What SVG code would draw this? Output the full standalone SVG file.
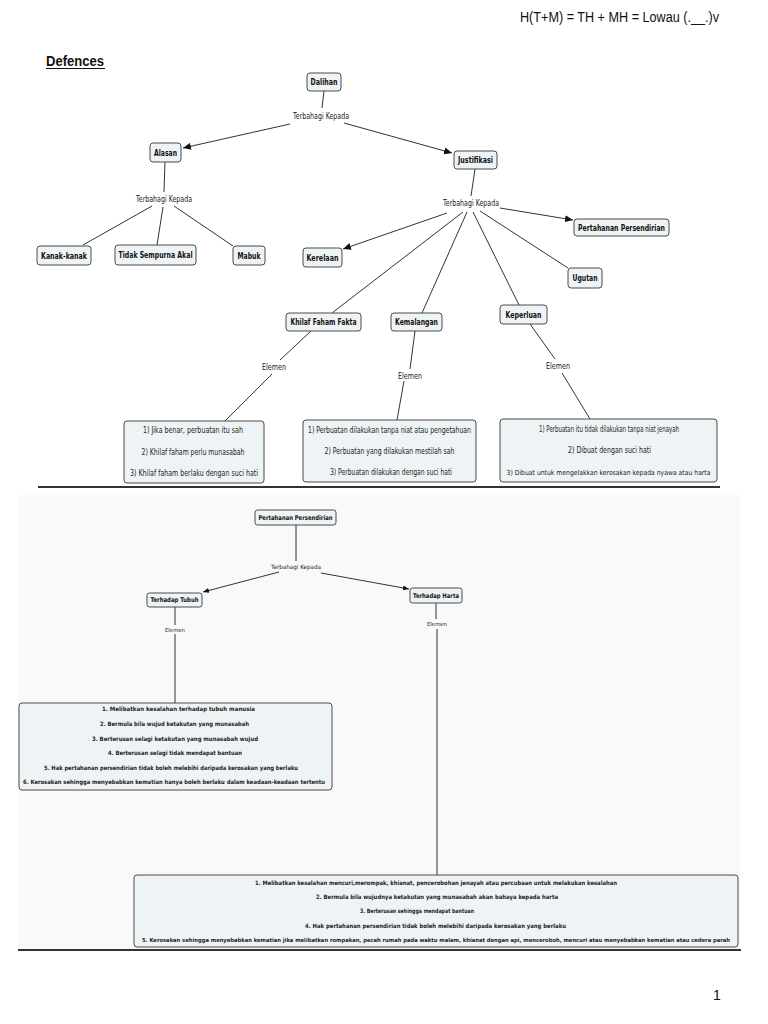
<svg xmlns="http://www.w3.org/2000/svg" width="768" height="1024" viewBox="0 0 768 1024">
<style>
.bg{fill:#ffffff}
.node rect{fill:#eef3f5;stroke:#4a4a4a;stroke-width:1}
.nt{font-family:"DejaVu Sans",Verdana,sans-serif;font-weight:bold;fill:#111;text-anchor:middle}
.lb{font-family:"DejaVu Sans",Verdana,sans-serif;fill:#222;text-anchor:middle}
.bt{font-family:"DejaVu Sans",Verdana,sans-serif;fill:#222;text-anchor:middle}
.conn line{stroke:#333;stroke-width:1;fill:none}
.hdr{font-family:"Liberation Sans",Arial,sans-serif;fill:#111}
</style>
<defs>
<marker id="ah" markerUnits="userSpaceOnUse" markerWidth="8" markerHeight="7" refX="8" refY="3.5" orient="auto">
<path d="M0,0 L8,3.5 L0,7 z" fill="#111"/>
</marker>
<marker id="ahs" markerUnits="userSpaceOnUse" markerWidth="6" markerHeight="5" refX="6" refY="2.5" orient="auto">
<path d="M0,0 L6,2.5 L0,5 z" fill="#111"/>
</marker>
</defs>
<rect class="bg" x="0" y="0" width="768" height="1024"/>
<rect x="18" y="495" width="722" height="455" fill="#f9f9f9"/>

<text class="hdr" x="520" y="22" font-size="14" textLength="199" lengthAdjust="spacingAndGlyphs">H(T+M) = TH + MH =  Lowau (.__.)v</text>
<text class="hdr" x="46" y="66" font-size="14" font-weight="bold" textLength="58" lengthAdjust="spacingAndGlyphs">Defences</text>
<line x1="46" y1="68.5" x2="105" y2="68.5" stroke="#111" stroke-width="1"/>

<g id="connectors" class="conn">
<line x1="324" y1="91" x2="322" y2="108"/>
<line x1="290" y1="124" x2="183" y2="148" marker-end="url(#ah)"/>
<line x1="344" y1="123" x2="452" y2="153" marker-end="url(#ah)"/>
<line x1="165" y1="162" x2="164" y2="192"/>
<line x1="152" y1="206" x2="83" y2="245"/>
<line x1="163" y1="207" x2="157" y2="245"/>
<line x1="174" y1="206" x2="233" y2="246"/>
<line x1="475" y1="169" x2="471" y2="196"/>
<line x1="500" y1="208" x2="573" y2="220" marker-end="url(#ah)"/>
<line x1="447" y1="213" x2="343" y2="249" marker-end="url(#ah)"/>
<line x1="480" y1="211" x2="568" y2="268"/>
<line x1="463" y1="212" x2="332" y2="313"/>
<line x1="467" y1="212" x2="422" y2="313"/>
<line x1="473" y1="212" x2="519" y2="305"/>
<line x1="311" y1="331" x2="280" y2="360"/>
<line x1="272" y1="374" x2="225" y2="421"/>
<line x1="415" y1="331" x2="410" y2="369"/>
<line x1="404" y1="381" x2="397" y2="420"/>
<line x1="530" y1="324" x2="555" y2="359"/>
<line x1="562" y1="373" x2="590" y2="419"/>

<line x1="296" y1="525" x2="296" y2="561"/>
<line x1="279" y1="572" x2="203" y2="592" marker-end="url(#ahs)"/>
<line x1="321" y1="573" x2="409" y2="589" marker-end="url(#ahs)"/>
<line x1="175" y1="607" x2="175" y2="625"/>
<line x1="175" y1="634" x2="175" y2="703"/>
<line x1="436" y1="603" x2="436" y2="619"/>
<line x1="437" y1="629" x2="437" y2="875"/>
</g>

<g id="labels">
<text class="lb" x="321" y="119" font-size="8" textLength="56" lengthAdjust="spacingAndGlyphs">Terbahagi Kepada</text>
<text class="lb" x="164" y="202" font-size="8" textLength="56" lengthAdjust="spacingAndGlyphs">Terbahagi Kepada</text>
<text class="lb" x="471" y="206" font-size="8" textLength="56" lengthAdjust="spacingAndGlyphs">Terbahagi Kepada</text>
<text class="lb" x="274" y="370" font-size="8" textLength="24" lengthAdjust="spacingAndGlyphs">Elemen</text>
<text class="lb" x="410" y="379" font-size="8" textLength="24" lengthAdjust="spacingAndGlyphs">Elemen</text>
<text class="lb" x="558" y="369" font-size="8" textLength="24" lengthAdjust="spacingAndGlyphs">Elemen</text>
<text class="lb" x="296" y="569" font-size="6" textLength="50" lengthAdjust="spacingAndGlyphs">Terbahagi Kepada</text>
<text class="lb" x="175" y="632" font-size="5.5" textLength="20" lengthAdjust="spacingAndGlyphs">Elemen</text>
<text class="lb" x="437" y="626" font-size="5.5" textLength="20" lengthAdjust="spacingAndGlyphs">Elemen</text>
</g>

<g id="n-dalihan" class="node"><rect x="307" y="73" width="34" height="18" rx="3"/><text class="nt" x="324" y="85" font-size="8.5" textLength="27" lengthAdjust="spacingAndGlyphs">Dalihan</text></g>
<g id="n-alasan" class="node"><rect x="150" y="143" width="31" height="19" rx="3"/><text class="nt" x="165.5" y="156" font-size="8.5" textLength="23" lengthAdjust="spacingAndGlyphs">Alasan</text></g>
<g id="n-kanak" class="node"><rect x="37" y="246" width="54" height="19" rx="3"/><text class="nt" x="64" y="258.5" font-size="8.5" textLength="46" lengthAdjust="spacingAndGlyphs">Kanak-kanak</text></g>
<g id="n-tidak" class="node"><rect x="115" y="245" width="81" height="20" rx="3"/><text class="nt" x="155.5" y="258" font-size="8.5" textLength="74" lengthAdjust="spacingAndGlyphs">Tidak Sempurna Akal</text></g>
<g id="n-mabuk" class="node"><rect x="233" y="246" width="32" height="19" rx="3"/><text class="nt" x="249" y="258.5" font-size="8.5" textLength="23" lengthAdjust="spacingAndGlyphs">Mabuk</text></g>
<g id="n-kerelaan" class="node"><rect x="303" y="248" width="39" height="19" rx="3"/><text class="nt" x="322.5" y="260.5" font-size="8.5" textLength="32" lengthAdjust="spacingAndGlyphs">Kerelaan</text></g>
<g id="n-justifikasi" class="node"><rect x="454" y="151" width="43" height="18" rx="3"/><text class="nt" x="475.5" y="163" font-size="8.5" textLength="35" lengthAdjust="spacingAndGlyphs">Justifikasi</text></g>
<g id="n-pertahanan" class="node"><rect x="574" y="219" width="95" height="17" rx="3"/><text class="nt" x="621.5" y="230.5" font-size="8.5" textLength="87" lengthAdjust="spacingAndGlyphs">Pertahanan Persendirian</text></g>
<g id="n-ugutan" class="node"><rect x="568" y="268" width="34" height="20" rx="3"/><text class="nt" x="585" y="281" font-size="8.5" textLength="25" lengthAdjust="spacingAndGlyphs">Ugutan</text></g>
<g id="n-khilaf" class="node"><rect x="286" y="313" width="75" height="18" rx="3"/><text class="nt" x="323.5" y="325" font-size="8.5" textLength="66" lengthAdjust="spacingAndGlyphs">Khilaf Faham Fakta</text></g>
<g id="n-kemalangan" class="node"><rect x="391" y="313" width="51" height="18" rx="3"/><text class="nt" x="416.5" y="325" font-size="8.5" textLength="43" lengthAdjust="spacingAndGlyphs">Kemalangan</text></g>
<g id="n-keperluan" class="node"><rect x="500" y="305" width="47" height="19" rx="3"/><text class="nt" x="523.5" y="317.5" font-size="8.5" textLength="36" lengthAdjust="spacingAndGlyphs">Keperluan</text></g>

<g id="n-khilaf-el" class="node"><rect x="124" y="421" width="140" height="62" rx="3"/>
<text class="bt" x="193" y="433" font-size="8" textLength="100" lengthAdjust="spacingAndGlyphs">1) Jika benar, perbuatan itu sah</text>
<text class="bt" x="193" y="455" font-size="8" textLength="103" lengthAdjust="spacingAndGlyphs">2) Khilaf faham perlu munasabah</text>
<text class="bt" x="194" y="476" font-size="8" textLength="128" lengthAdjust="spacingAndGlyphs">3) Khilaf faham berlaku dengan suci hati</text>
</g>
<g id="n-kemalangan-el" class="node"><rect x="303" y="420" width="173" height="62" rx="3"/>
<text class="bt" x="389.5" y="433" font-size="8" textLength="163" lengthAdjust="spacingAndGlyphs">1) Perbuatan dilakukan tanpa niat atau pengetahuan</text>
<text class="bt" x="389.5" y="454" font-size="8" textLength="130" lengthAdjust="spacingAndGlyphs">2) Perbuatan yang dilakukan mestilah sah</text>
<text class="bt" x="391" y="475" font-size="8" textLength="122" lengthAdjust="spacingAndGlyphs">3) Perbuatan dilakukan dengan suci hati</text>
</g>
<g id="n-keperluan-el" class="node"><rect x="500" y="419" width="217" height="63" rx="3"/>
<text class="bt" x="609" y="432" font-size="8" textLength="140" lengthAdjust="spacingAndGlyphs">1) Perbuatan itu tidak dilakukan tanpa niat jenayah</text>
<text class="bt" x="609.5" y="453" font-size="8" textLength="83" lengthAdjust="spacingAndGlyphs">2) Dibuat dengan suci hati</text>
<text class="bt" x="608.5" y="475" font-size="7" textLength="204" lengthAdjust="spacingAndGlyphs">3) Dibuat untuk mengelakkan kerosakan kepada nyawa atau harta</text>
</g>

<line x1="38" y1="487" x2="720" y2="487" stroke="#333" stroke-width="2"/>

<g id="n-pp2" class="node"><rect x="255" y="510" width="81" height="15" rx="2.5"/><text class="nt" x="295.5" y="519.5" font-size="6.5" textLength="74" lengthAdjust="spacingAndGlyphs">Pertahanan Persendirian</text></g>
<g id="n-tubuh" class="node"><rect x="147" y="593" width="55" height="14" rx="2.5"/><text class="nt" x="174.5" y="602.3" font-size="6.5" textLength="48" lengthAdjust="spacingAndGlyphs">Terhadap Tubuh</text></g>
<g id="n-harta" class="node"><rect x="410" y="588" width="52" height="15" rx="2.5"/><text class="nt" x="436" y="597.8" font-size="6.5" textLength="46" lengthAdjust="spacingAndGlyphs">Terhadap Harta</text></g>

<g id="n-tubuh-el" class="node"><rect x="19" y="703" width="313" height="87" rx="3"/>
<text class="bt" x="178.5" y="711" font-size="6" font-weight="bold" textLength="153" lengthAdjust="spacingAndGlyphs">1. Melibatkan kesalahan terhadap tubuh manusia</text>
<text class="bt" x="174.5" y="726" font-size="6" font-weight="bold" textLength="149" lengthAdjust="spacingAndGlyphs">2. Bermula bila wujud ketakutan yang munasabah</text>
<text class="bt" x="175" y="741" font-size="6" font-weight="bold" textLength="166" lengthAdjust="spacingAndGlyphs">3. Berterusan selagi ketakutan yang munasabah wujud</text>
<text class="bt" x="175" y="755" font-size="6" font-weight="bold" textLength="134" lengthAdjust="spacingAndGlyphs">4. Berterusan selagi tidak mendapat bantuan</text>
<text class="bt" x="171" y="770" font-size="6" font-weight="bold" textLength="254" lengthAdjust="spacingAndGlyphs">5. Hak pertahanan persendirian tidak boleh melebihi daripada kerosakan yang berlaku</text>
<text class="bt" x="174" y="784" font-size="6" font-weight="bold" textLength="302" lengthAdjust="spacingAndGlyphs">6. Kerosakan sehingga menyebabkan kematian hanya boleh berlaku dalam keadaan-keadaan tertentu</text>
</g>
<g id="n-harta-el" class="node"><rect x="134" y="875" width="604" height="72" rx="3"/>
<text class="bt" x="436" y="885" font-size="6" font-weight="bold" textLength="362" lengthAdjust="spacingAndGlyphs">1. Melibatkan kesalahan mencuri,merompak, khianat, pencerobohan jenayah atau percubaan untuk melakukan kesalahan</text>
<text class="bt" x="437" y="899" font-size="6" font-weight="bold" textLength="242" lengthAdjust="spacingAndGlyphs">2. Bermula bila wujudnya ketakutan yang munasabah akan bahaya kepada harta</text>
<text class="bt" x="417" y="913" font-size="6" font-weight="bold" textLength="114" lengthAdjust="spacingAndGlyphs">3. Berterusan sehingga mendapat bantuan</text>
<text class="bt" x="435.5" y="928" font-size="6" font-weight="bold" textLength="261" lengthAdjust="spacingAndGlyphs">4. Hak pertahanan persendirian tidak boleh melebihi daripada kerosakan yang berlaku</text>
<text class="bt" x="436" y="942" font-size="5.5" font-weight="bold" textLength="588" lengthAdjust="spacingAndGlyphs">5. Kerosakan sehingga menyebabkan kematian jika melibatkan rompakan, pecah rumah pada waktu malam, khianat dengan api, menceroboh, mencuri atau menyebabkan kematian atau cedera parah</text>
</g>

<line x1="18" y1="950" x2="741" y2="950" stroke="#333" stroke-width="2"/>
<text class="hdr" x="717" y="1000" font-size="14" text-anchor="middle">1</text>
</svg>
